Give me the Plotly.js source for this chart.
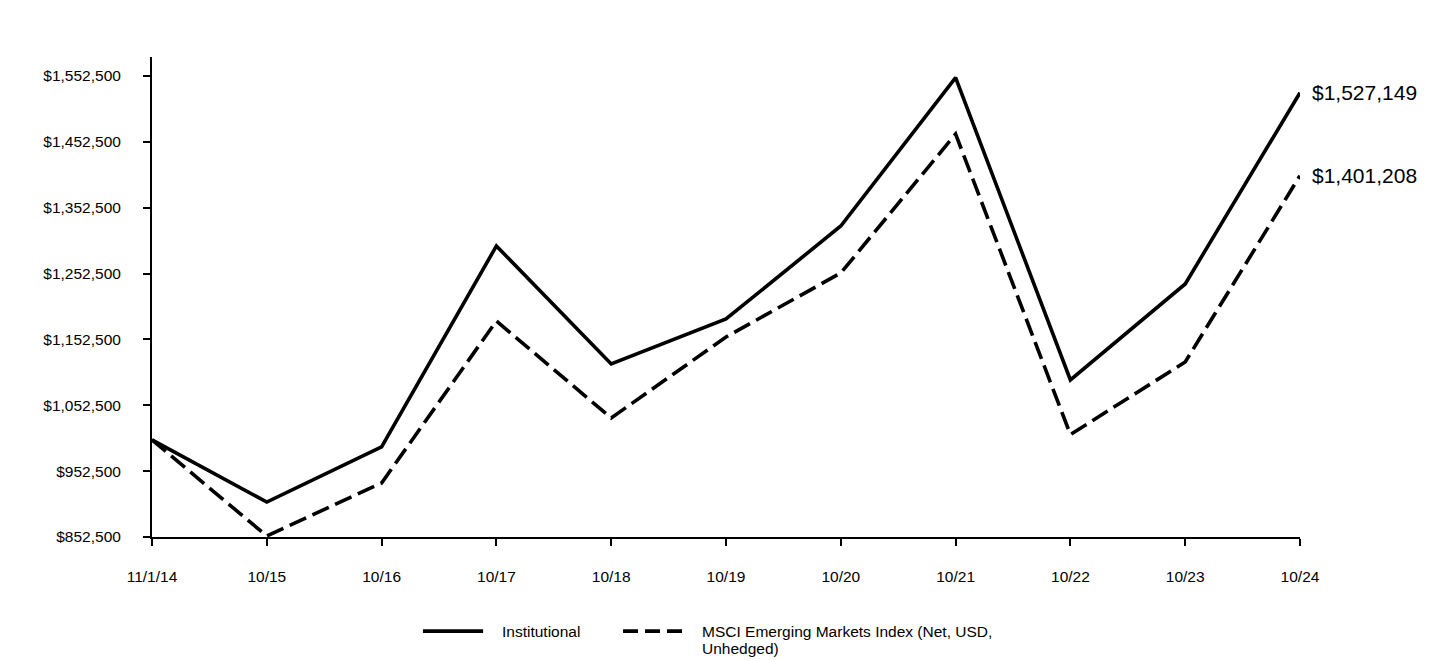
<!DOCTYPE html>
<html>
<head>
<meta charset="utf-8">
<script src="https://cdn.plot.ly/plotly-3.0.1.min.js"></script>
<style>html,body{margin:0;padding:0;background:#fff;}#chart{width:1440px;height:660px;}</style>
</head>
<body>
<div id="chart"></div>
<script>
const categories = ["11/1/14","10/15","10/16","10/17","10/18","10/19","10/20","10/21","10/22","10/23","10/24"];
const institutional = [1000000, 905600, 989200, 1294400, 1115200, 1183500, 1324700, 1550000, 1090900, 1236700, 1527149];
const msci = [1000000, 854000, 934500, 1180500, 1033200, 1156200, 1253400, 1464400, 1008000, 1118200, 1401208];
const seriesNames = ["Institutional", "MSCI Emerging Markets Index (Net, USD,<br>Unhedged)"];
const yTickVals = [852500, 952500, 1052500, 1152500, 1252500, 1352500, 1452500, 1552500];
const yTickText = ["$852,500","$952,500","$1,052,500","$1,152,500","$1,252,500","$1,352,500","$1,452,500","$1,552,500"];
const endLabels = ["$1,527,149", "$1,401,208"];

const font = "Liberation Sans, Arial, sans-serif";

const traces = [
  {x: categories, y: institutional, type: "scatter", mode: "lines", name: seriesNames[0],
   line: {color: "#000", width: 3.6}, showlegend: false, hoverinfo: "skip"},
  {x: categories, y: msci, type: "scatter", mode: "lines", name: seriesNames[1],
   line: {color: "#000", width: 3.6, dash: "18px,7px"}, showlegend: false, hoverinfo: "skip"}
];

const last = categories.length - 1;
const annotations = [
  {x: categories[last], y: institutional[last], xref: "x", yref: "y", text: endLabels[0], showarrow: false,
   xanchor: "left", yanchor: "middle", xshift: 10, font: {family: font, size: 21, color: "#000"}},
  {x: categories[last], y: msci[last], xref: "x", yref: "y", text: endLabels[1], showarrow: false,
   xanchor: "left", yanchor: "middle", xshift: 10, font: {family: font, size: 21, color: "#000"}}
];

// legend (drawn manually to match the reference's long line samples)
const legendLineY = -0.196;
const legendEntries = [
  {x0: 0.236, x1: 0.2884, tx: 0.3031, dash: "solid", lines: seriesNames[0].split("<br>")},
  {x0: 0.4103, x1: 0.4625, tx: 0.4774, dash: "15px,7px", lines: seriesNames[1].split("<br>")}
];
const shapes = [];
legendEntries.forEach(e => {
  shapes.push({type: "line", xref: "paper", yref: "paper", x0: e.x0, x1: e.x1, y0: legendLineY, y1: legendLineY,
    line: {color: "#000", width: 3.6, dash: e.dash}});
  e.lines.forEach((t, i) => {
    annotations.push({x: e.tx, y: legendLineY - i * 17 / 480, xref: "paper", yref: "paper", text: t,
      showarrow: false, xanchor: "left", yanchor: "middle", align: "left",
      font: {family: font, size: 15.5, color: "#000"}});
  });
});

const layout = {
  width: 1440, height: 660,
  margin: {l: 152, r: 140, t: 57, b: 123},
  paper_bgcolor: "#fff", plot_bgcolor: "#fff",
  font: {family: font, size: 16, color: "#000"},
  showlegend: false,
  xaxis: {
    type: "category", range: [0, last],
    showgrid: false, zeroline: false,
    showline: true, linecolor: "#000", linewidth: 2,
    ticks: "outside", ticklen: 7, tickwidth: 2, tickcolor: "#000",
    ticklabelstandoff: 17,
    tickfont: {family: font, size: 15.5, color: "#000"}
  },
  yaxis: {
    range: [852500, 1581350],
    tickvals: yTickVals, ticktext: yTickText,
    showgrid: false, zeroline: false,
    showline: true, linecolor: "#000", linewidth: 2,
    ticks: "outside", ticklen: 7, tickwidth: 2, tickcolor: "#000",
    ticklabelstandoff: 19,
    tickfont: {family: font, size: 15.5, color: "#000"}
  },
  annotations: annotations,
  shapes: shapes
};

Plotly.newPlot("chart", traces, layout, {staticPlot: true, displayModeBar: false});
</script>
</body>
</html>
